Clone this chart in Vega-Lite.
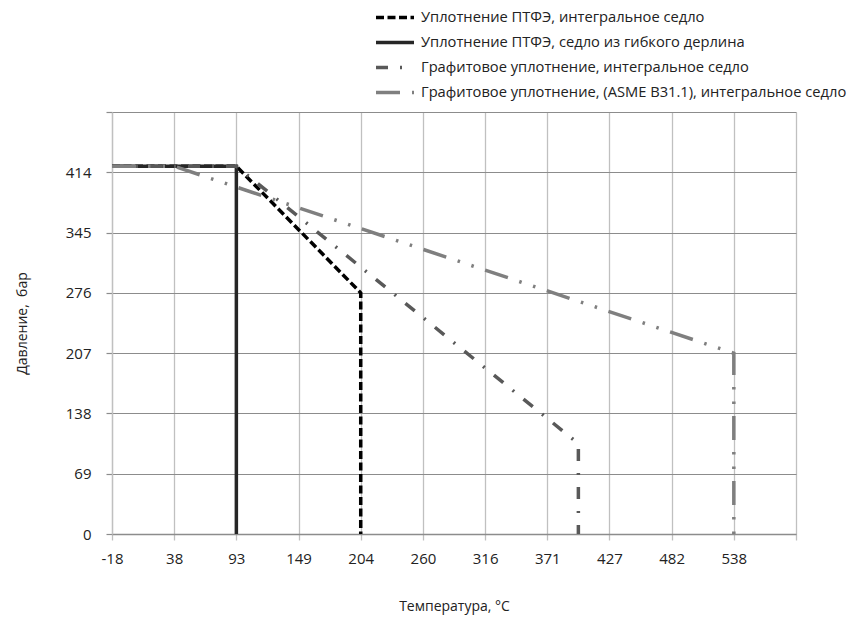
{
  "$schema": "https://vega.github.io/schema/vega-lite/v6.json",
  "autosize": "none",
  "width": 684,
  "height": 422,
  "padding": {"left": 112, "top": 112, "right": 63, "bottom": 92},
  "background": "white",
  "config": {
    "font": "Open Sans",
    "view": {"stroke": null}
  },
  "data": {
    "values": [
      {"s": "Уплотнение ПТФЭ, интегральное седло", "i": 1, "t": -17.78, "p": 420.6},
      {"s": "Уплотнение ПТФЭ, интегральное седло", "i": 2, "t": 93.33, "p": 420.6},
      {"s": "Уплотнение ПТФЭ, интегральное седло", "i": 3, "t": 204.44, "p": 275.8},
      {"s": "Уплотнение ПТФЭ, интегральное седло", "i": 4, "t": 204.44, "p": 0},
      {"s": "Уплотнение ПТФЭ, седло из гибкого дерлина", "i": 1, "t": -17.78, "p": 420.6},
      {"s": "Уплотнение ПТФЭ, седло из гибкого дерлина", "i": 2, "t": 93.33, "p": 420.6},
      {"s": "Уплотнение ПТФЭ, седло из гибкого дерлина", "i": 3, "t": 93.33, "p": 0},
      {"s": "Графитовое уплотнение, интегральное седло", "i": 1, "t": -17.78, "p": 420.6},
      {"s": "Графитовое уплотнение, интегральное седло", "i": 2, "t": 93.33, "p": 420.6},
      {"s": "Графитовое уплотнение, интегральное седло", "i": 3, "t": 398.89, "p": 103.4},
      {"s": "Графитовое уплотнение, интегральное седло", "i": 4, "t": 398.89, "p": 0},
      {"s": "Графитовое уплотнение, (ASME B31.1), интегральное седло", "i": 1, "t": -17.78, "p": 420.6},
      {"s": "Графитовое уплотнение, (ASME B31.1), интегральное седло", "i": 2, "t": 37.78, "p": 420.6},
      {"s": "Графитовое уплотнение, (ASME B31.1), интегральное седло", "i": 3, "t": 537.78, "p": 206.8},
      {"s": "Графитовое уплотнение, (ASME B31.1), интегральное седло", "i": 4, "t": 537.78, "p": 0}
    ]
  },
  "mark": {"type": "line", "strokeWidth": 3.5, "strokeCap": "butt", "strokeJoin": "miter", "clip": false},
  "encoding": {
    "x": {
      "field": "t", "type": "quantitative",
      "scale": {"domain": [-17.78, 593.33], "nice": false, "zero": false},
      "axis": {
        "title": "Температура, °C",
        "values": [-17.78, 37.78, 93.33, 148.89, 204.44, 260, 315.56, 371.11, 426.67, 482.22, 537.78, 593.33],
        "labelExpr": "datum.value > 590 ? '' : '' + round(datum.value)",
        "grid": true, "gridColor": "#c0c0c0", "gridWidth": 1.3,
        "domainColor": "#8c8c8c", "domainWidth": 1.3,
        "tickColor": "#c0c0c0", "tickSize": 6, "tickWidth": 1.3,
        "labelFontSize": 15, "labelColor": "#222222", "labelPadding": 11,
        "labelFlush": false, "labelOverlap": false,
        "titleFontSize": 14, "titleFontWeight": "normal", "titleColor": "#222222", "titlePadding": 33
      }
    },
    "y": {
      "field": "p", "type": "quantitative",
      "scale": {"domain": [0, 482.63], "nice": false},
      "axis": {
        "title": "Давление,\u00a0 бар",
        "values": [0, 68.95, 137.9, 206.84, 275.79, 344.74, 413.69, 482.63],
        "labelExpr": "datum.value > 480 ? '' : format(datum.value, '.0f')",
        "grid": true, "gridColor": "#8c8c8c", "gridWidth": 1.2,
        "domainColor": "#c0c0c0", "domainWidth": 1.3,
        "tickColor": "#8c8c8c", "tickSize": 6, "tickWidth": 1.2,
        "labelFontSize": 15, "labelColor": "#222222", "labelPadding": 15,
        "labelFlush": false, "labelOverlap": false,
        "titleFontSize": 14, "titleFontWeight": "normal", "titleColor": "#222222", "titlePadding": 36
      }
    },
    "order": {"field": "i", "type": "quantitative"},
    "color": {
      "field": "s", "type": "nominal",
      "scale": {
        "domain": ["Уплотнение ПТФЭ, интегральное седло", "Уплотнение ПТФЭ, седло из гибкого дерлина", "Графитовое уплотнение, интегральное седло", "Графитовое уплотнение, (ASME B31.1), интегральное седло"],
        "range": ["#000000", "#262626", "#595959", "#7f7f7f"]
      },
      "legend": {
        "title": null, "orient": "none", "legendX": 262, "legendY": -103,
        "symbolType": "stroke", "symbolSize": 1444, "symbolStrokeWidth": 3.5,
        "clipHeight": 17, "rowPadding": 8,
        "labelFontSize": 14.7, "labelColor": "#222222", "labelLimit": 600, "labelOffset": 5
      }
    },
    "strokeDash": {
      "field": "s", "type": "nominal",
      "scale": {
        "domain": ["Уплотнение ПТФЭ, интегральное седло", "Уплотнение ПТФЭ, седло из гибкого дерлина", "Графитовое уплотнение, интегральное седло", "Графитовое уплотнение, (ASME B31.1), интегральное седло"],
        "range": [[8, 3.5], [1, 0], [12, 12, 2, 12], [24, 12, 2.5, 12, 2.5, 12]]
      },
      "legend": null
    }
  }
}
